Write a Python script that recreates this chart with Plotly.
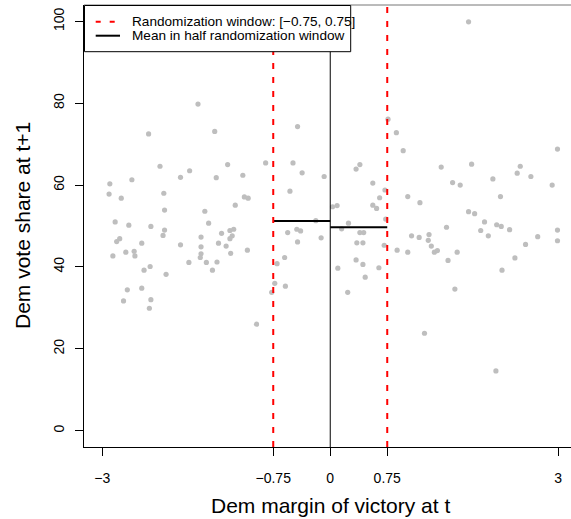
import plotly.graph_objects as go
import numpy as np

# Dem margin of victory at t (x) and Dem vote share at t+1 (y)
margin_x = [
    -1.74, -2.39, -1.52, -2.24, -1.85, -1.97, -1.50, -1.35, -1.15, -2.90,
    -2.61, -2.91, -2.75, -2.19, -1.13, -1.08, -1.25, -2.18, -1.65, -2.83,
    -2.65, -2.36, -1.60, -2.18, -2.20, -1.32, -1.27, -1.43, -1.29, -1.32,
    -1.70, -2.77, -2.81, -2.48, -1.97, -1.47, -1.37, -1.70, -1.09, -2.86,
    -2.69, -2.58, -2.57, -1.70, -1.71, -1.31, -1.86, -1.63, -1.49, -2.37,
    -2.45, -1.55, -2.16, -2.67, -2.48, -2.72, -2.36, -2.38,
    -0.85, -0.77, -0.97,
    -0.43, -0.49, -0.37, -0.08, -0.53, -0.19, -0.56, -0.44, -0.39, -0.43,
    -0.12, -0.70, -0.60, -0.73, -0.59,
    0.03, 0.09, 0.24, 0.15, 0.34, 0.39, 0.56, 0.65, 0.72, 0.56,
    0.61, 0.73, 0.39, 0.44, 0.35, 0.43, 0.71, 0.34, 0.43, 0.10,
    0.64, 0.46, 0.23,
    0.76, 0.87, 0.96, 1.02, 0.88, 1.02, 2.99, 1.46, 1.86, 1.61,
    1.71, 2.14, 2.46, 2.50, 2.64, 2.92, 1.18, 2.24, 1.82, 1.90,
    2.03, 2.19, 2.25, 2.36, 1.98, 2.08, 1.53, 1.07, 1.17, 1.30,
    1.29, 1.33, 1.37, 1.41, 1.67, 1.55, 2.99, 2.99, 2.73, 2.57,
    2.43, 2.26, 1.64, 1.24, 1.82, 2.18,
]
vote_y = [
    79.8, 72.5, 73.1, 64.6, 63.5, 61.9, 61.8, 65.0, 62.4, 60.3,
    61.3, 57.8, 56.8, 58.0, 57.1, 56.8, 55.1, 53.9, 53.6, 51.0,
    50.2, 49.9, 50.7, 49.0, 47.7, 48.9, 49.2, 48.2, 47.6, 46.9,
    47.3, 46.9, 46.2, 45.8, 45.4, 45.8, 45.1, 44.9, 44.1, 42.7,
    43.6, 43.8, 42.7, 43.2, 42.3, 43.3, 41.1, 41.1, 41.2, 40.1,
    39.2, 39.2, 38.2, 34.4, 34.8, 31.7, 32.0, 29.9,
    65.4, 33.8, 26.0,
    74.3, 65.4, 63.0, 62.1, 58.5, 51.3, 48.4, 49.2, 48.8, 46.1,
    47.1, 40.8, 42.3, 36.0, 35.3,
    54.7, 55.0, 50.7, 49.3, 63.9, 65.0, 60.5, 56.9, 58.8, 55.1,
    54.3, 51.7, 48.4, 48.4, 45.9, 45.9, 45.3, 41.7, 40.6, 39.7,
    39.8, 37.5, 33.8,
    76.1, 72.8, 68.4, 57.2, 44.1, 43.6, 68.8, 64.4, 65.1, 60.6,
    60.0, 61.5, 62.9, 64.6, 62.1, 60.0, 55.7, 57.2, 53.5, 53.0,
    51.0, 50.3, 49.9, 49.1, 48.9, 47.6, 49.7, 47.6, 47.2, 47.9,
    46.5, 45.1, 43.6, 44.0, 43.6, 41.6, 49.0, 46.4, 47.4, 45.5,
    42.2, 39.2, 34.6, 23.8, 99.9, 14.6,
]

window = [-0.75, 0.75]
x_ticks = [-3, -0.75, 0, 0.75, 3]
x_tick_labels = ["\u22123", "\u22120.75", "0", "0.75", "3"]
y_ticks = [0, 20, 40, 60, 80, 100]
legend_labels = ["Randomization window: [\u22120.75, 0.75]",
                 "Mean in half randomization window"]

xs = np.array(margin_x)
ys = np.array(vote_y)
left_mask = (xs >= window[0]) & (xs < 0)
right_mask = (xs >= 0) & (xs <= window[1])
mean_left = ys[left_mask].mean()
mean_right = ys[right_mask].mean()

FONT = "Liberation Sans, Arial, Helvetica, sans-serif"
W, H = 571, 519
ML, MR, MT, MB = 84, 0, 5, 72
plot_w = W - ML - MR
plot_h = H - MT - MB
px_per_unit = 76.0
x_lo = -3.24
x_hi = x_lo + plot_w / px_per_unit

fig = go.Figure()

fig.add_trace(go.Scatter(
    x=margin_x, y=vote_y, mode="markers",
    marker=dict(color="#BEBEBE", size=5.2, line=dict(width=0)),
    showlegend=False, hoverinfo="skip",
))

# Vertical window lines and cutoff
for xv in window:
    fig.add_vline(x=xv, line=dict(color="#FF0000", width=2, dash="6px,8px"))
fig.add_vline(x=0, line=dict(color="black", width=1))

# Mean segments
fig.add_trace(go.Scatter(x=[window[0], 0], y=[mean_left, mean_left], mode="lines",
                         line=dict(color="black", width=2), showlegend=False, hoverinfo="skip"))
fig.add_trace(go.Scatter(x=[0, window[1]], y=[mean_right, mean_right], mode="lines",
                         line=dict(color="black", width=2), showlegend=False, hoverinfo="skip"))

def px_to_paper_x(px):
    return (px - ML) / plot_w

def py_to_paper_y(py):
    return (MT + plot_h - py) / plot_h

# Top box line
fig.add_shape(type="line", xref="paper", yref="paper", x0=0, x1=1, y0=1, y1=1,
              line=dict(color="#777777", width=1))

# Legend (drawn manually to match layout)
fig.add_shape(type="rect", xref="paper", yref="paper",
              x0=px_to_paper_x(84.5), x1=px_to_paper_x(350.7),
              y0=py_to_paper_y(51.7), y1=py_to_paper_y(5.5),
              line=dict(color="black", width=1), fillcolor="white", layer="above")
fig.add_shape(type="line", xref="paper", yref="paper",
              x0=px_to_paper_x(95.7), x1=px_to_paper_x(120), y0=py_to_paper_y(21.7), y1=py_to_paper_y(21.7),
              line=dict(color="#FF0000", width=2, dash="5px,9px"), layer="above")
fig.add_shape(type="line", xref="paper", yref="paper",
              x0=px_to_paper_x(95.7), x1=px_to_paper_x(120), y0=py_to_paper_y(35.7), y1=py_to_paper_y(35.7),
              line=dict(color="black", width=2), layer="above")
for label, yy in zip(legend_labels, [21.7, 35.7]):
    fig.add_annotation(xref="paper", yref="paper", x=px_to_paper_x(129.5), y=py_to_paper_y(yy),
                       text=label, showarrow=False, xanchor="left", yanchor="middle",
                       font=dict(family=FONT, size=13.6, color="black"))

# Axis titles
fig.add_annotation(xref="paper", yref="paper", x=px_to_paper_x(330.7), y=0,
                   text="Dem margin of victory at t", showarrow=False,
                   xanchor="center", yanchor="middle", yshift=-58,
                   font=dict(family=FONT, size=21, color="black"))
fig.add_annotation(xref="paper", yref="paper", x=0, y=0.5,
                   text="Dem vote share at t+1", showarrow=False, textangle=-90,
                   xanchor="center", yanchor="middle", xshift=-62,
                   font=dict(family=FONT, size=21, color="black"))

fig.update_layout(
    width=W, height=H,
    margin=dict(l=ML, r=MR, t=MT, b=MB, pad=0),
    plot_bgcolor="white", paper_bgcolor="white",
    showlegend=False,
    font=dict(family=FONT, color="black"),
)
fig.update_xaxes(
    range=[x_lo, x_hi], tickvals=x_ticks, ticktext=x_tick_labels,
    showgrid=False, zeroline=False, showline=True, linecolor="black", linewidth=1,
    ticks="outside", ticklen=8, tickcolor="black", tickwidth=1,
    tickfont=dict(family=FONT, size=14, color="black"), ticklabelstandoff=10,
)
fig.update_yaxes(
    range=[-4, 104], tickvals=y_ticks, ticktext=[str(v) for v in y_ticks],
    showgrid=False, zeroline=False, showline=True, linecolor="black", linewidth=1,
    ticks="outside", ticklen=8, tickcolor="black", tickwidth=1, tickangle=-90,
    tickfont=dict(family=FONT, size=14, color="black"), ticklabelstandoff=5,
)

fig.write_html("out.html")
